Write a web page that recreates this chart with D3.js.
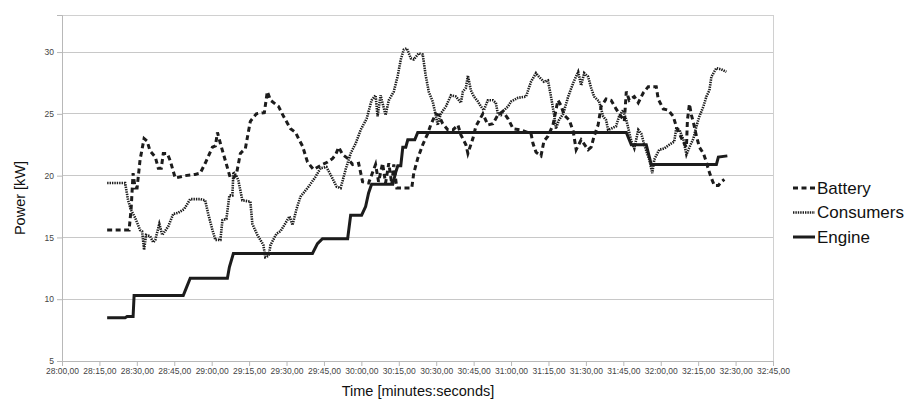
<!DOCTYPE html>
<html><head><meta charset="utf-8">
<script src="https://cdn.jsdelivr.net/npm/d3@7"></script>
<style>body{margin:0;background:#fff;} svg{display:block;font-family:"Liberation Sans",Arial,sans-serif;}</style>
</head><body>
<script>
// Time in seconds after 28:00
const engineT = [18.1,25.3,26.1,28.5,28.9,48.6,49.8,51.4,66.3,67.1,68.7,100.4,102.4,104.4,114.5,115.7,120.1,121.7,122.9,124.1,132.6,133.8,134.6,135.8,136.6,137.8,138.6,141.4,142.6,226.2,228.2,234.2,236.2,262.3,263.1,266.7];
const engineV = [8.5,8.5,8.6,8.6,10.3,10.3,10.9,11.7,11.7,12.6,13.7,13.7,14.5,14.9,14.9,16.8,16.8,17.5,18.6,19.3,19.3,20.3,20.8,20.8,22.3,22.3,22.9,22.9,23.5,23.5,22.5,22.5,20.9,20.9,21.5,21.6];

const batteryT = [18.1,26.9,27.7,28.5,29.3,30.1,31.3,32.9,34.1,35.3,37.4,38.6,39.8,40.6,42.2,43.4,45.4,49.4,53.4,55.4,57.4,60.3,61.5,62.3,63.5,65.5,67.5,68.7,69.9,71.5,73.5,75.5,77.9,81.1,82.3,83.6,86.8,88.8,91.6,93.6,94.8,96.4,98.4,100.8,104.4,106.5,108.5,109.7,110.9,112.5,114.5,116.5,118.9,120.5,122.9,125.7,126.9,128.5,129.7,131.0,132.2,133.0,134.2,140.2,141.0,142.6,144.6,146.6,147.8,149.8,151.0,152.6,154.7,156.7,158.7,159.9,161.9,162.7,164.7,165.9,168.7,170.7,172.7,174.7,176.7,178.8,180.8,184.0,188.0,188.8,190.0,192.0,193.2,194.8,196.8,198.8,200.0,201.3,203.3,204.9,206.1,208.1,210.9,212.1,213.3,214.9,216.1,218.1,220.1,222.1,224.1,225.4,226.2,227.4,229.4,231.0,233.0,235.0,238.2,239.0,241.0,243.0,245.0,246.2,247.5,249.1,250.3,250.7,251.5,252.3,253.1,254.3,255.5,257.1,258.3,259.1,260.3,261.5,263.1,264.3,265.5];
const batteryV = [15.6,15.6,17.3,20.2,19.0,19.0,21.3,23.0,22.8,22.0,21.5,20.6,20.6,21.8,21.8,21.2,19.8,20.0,20.1,20.2,21.0,22.3,22.4,23.5,22.6,21.2,19.8,19.8,20.1,21.8,22.2,24.4,25.0,25.1,26.8,26.1,25.6,24.8,23.8,23.5,23.0,22.4,21.1,20.5,20.9,21.1,21.4,21.7,22.3,21.7,21.4,20.9,21.0,19.5,19.4,20.9,19.5,21.0,19.4,21.0,19.3,20.9,19.0,19.0,20.2,21.4,22.5,23.4,24.1,25.0,24.9,24.2,23.7,23.7,24.1,23.3,22.5,21.8,23.0,24.0,25.0,24.1,24.2,24.9,25.2,24.6,23.8,23.7,23.4,22.6,21.9,21.6,22.8,23.2,24.1,26.1,25.7,24.9,24.5,23.6,22.1,22.9,22.1,22.3,23.2,24.1,25.6,26.2,26.1,25.4,24.8,24.4,26.8,26.1,26.4,25.9,26.7,27.2,27.2,26.2,25.4,25.3,24.8,24.0,23.4,22.7,22.3,24.5,25.8,24.9,24.3,23.2,22.3,21.8,21.1,20.5,19.8,19.2,19.2,19.5,19.7];

const consumersT = [18.1,25.3,26.5,27.7,29.3,31.3,32.1,32.9,33.7,35.3,36.6,37.4,39.0,40.2,42.6,44.6,46.6,49.0,51.4,55.4,57.4,58.6,60.3,61.5,63.5,64.3,65.9,67.1,68.3,68.7,69.9,70.7,72.3,75.5,76.3,78.3,80.7,81.5,82.8,83.6,86.0,87.6,88.8,91.2,92.4,94.0,95.6,98.8,101.6,103.6,106.0,108.1,110.1,111.7,113.7,115.7,117.7,119.7,122.1,124.1,125.7,126.5,127.7,129.7,131.0,133.0,134.6,135.8,137.0,138.2,139.8,141.0,143.0,144.6,145.8,147.0,148.6,149.8,150.6,151.8,153.9,155.9,157.9,159.9,160.7,161.9,162.7,163.9,165.1,166.7,167.9,169.1,170.7,172.7,173.9,174.7,175.9,177.2,178.8,180.0,182.8,186.0,188.0,190.0,191.2,193.2,194.8,196.0,197.2,198.0,199.2,200.9,202.9,204.9,206.9,208.1,209.3,210.9,212.1,213.3,215.3,216.9,218.1,218.9,220.1,222.1,223.3,224.9,226.2,228.2,229.4,231.0,232.2,233.4,235.4,236.6,237.4,239.4,241.4,243.4,245.4,246.2,247.5,249.1,250.3,251.5,253.1,254.3,255.5,257.1,258.3,259.5,260.3,262.3,264.3,266.3];
const consumersV = [19.4,19.4,18.0,17.2,16.6,15.6,15.5,14.0,15.2,15.1,14.6,14.8,16.1,15.2,15.9,16.9,17.0,17.3,18.1,18.1,18.0,16.9,15.6,14.8,14.8,16.4,16.5,18.4,18.4,20.3,20.0,19.6,18.0,17.9,16.1,15.2,14.4,13.4,13.5,14.4,15.3,15.5,15.9,16.7,16.0,17.3,18.3,19.1,19.9,20.6,20.7,19.9,19.1,19.0,20.5,21.8,22.6,23.7,24.6,26.1,26.5,24.8,26.5,24.9,26.1,26.8,28.1,29.4,30.2,30.3,29.5,29.4,29.9,29.8,28.1,26.8,26.0,24.9,24.1,25.0,25.6,26.5,26.4,25.9,26.8,27.1,28.1,26.9,26.4,26.0,25.6,25.3,26.1,26.1,25.9,25.0,24.9,25.3,25.6,26.0,26.3,26.4,27.6,28.3,28.0,27.6,27.7,26.4,25.0,23.8,24.5,25.0,26.4,27.5,28.4,27.3,28.3,28.0,27.1,26.4,26.0,24.8,24.5,23.7,23.8,24.0,24.8,25.3,24.5,22.8,22.2,23.7,23.4,22.5,21.3,20.2,21.3,22.1,22.2,22.5,22.75,23.8,23.7,22.9,21.7,22.3,23.0,24.0,24.8,25.6,26.4,26.9,28.0,28.7,28.6,28.4];

const yTicks = [5,10,15,20,25,30];
const xTicks = [0,15,30,45,60,75,90,105,120,135,150,165,180,195,210,225,240,255,270,285];
const seriesNames = ["Battery","Consumers","Engine"];

const W = 906, H = 402;
const m = {left: 62, right: 773, top: 15, bottom: 361};
const svg = d3.select("body").append("svg").attr("width", W).attr("height", H);

const x = d3.scaleLinear().domain([0, 285]).range([m.left, m.right]);
const y = d3.scaleLinear().domain([5, 33]).range([m.bottom, m.top]);

const fmt = t => { const mm = 28 + Math.floor(t / 60), ss = t % 60; return mm + ":" + String(ss).padStart(2, "0") + ",00"; };

// gridlines
svg.append("g").selectAll("line").data(yTicks.filter(v => v > 5)).join("line")
  .attr("x1", m.left).attr("x2", m.right).attr("y1", d => y(d)).attr("y2", d => y(d))
  .attr("stroke", "#c8c8c8").attr("stroke-width", 1).attr("shape-rendering", "crispEdges");
// top and right frame
svg.append("line").attr("x1", m.left).attr("x2", m.right).attr("y1", m.top).attr("y2", m.top)
  .attr("stroke", "#d0d0d0").attr("shape-rendering", "crispEdges");
svg.append("line").attr("x1", m.right).attr("x2", m.right).attr("y1", m.top).attr("y2", m.bottom)
  .attr("stroke", "#d0d0d0").attr("shape-rendering", "crispEdges");

const yAxis = svg.append("g").attr("transform", `translate(${m.left},0)`)
  .call(d3.axisLeft(y).tickValues(yTicks).tickSize(5).tickPadding(3));
const xAxis = svg.append("g").attr("transform", `translate(0,${m.bottom})`)
  .call(d3.axisBottom(x).tickValues(xTicks).tickFormat(fmt).tickSize(5).tickPadding(2));
[yAxis, xAxis].forEach(g => {
  g.select(".domain").attr("stroke", "#b8b8b8");
  g.selectAll(".tick line").attr("stroke", "#b8b8b8");
  g.selectAll("text").attr("fill", "#444").attr("font-size", "8.5px").attr("font-family", "'Liberation Sans',Arial,sans-serif");
});

const line = d3.line().x(d => x(d[0])).y(d => y(d[1]));
const zip = (a, b) => a.map((t, i) => [t, b[i]]);
const styles = {
  Battery: {w: 3, dash: "5,3.5"},
  Consumers: {w: 2.6, dash: "1.4,1"},
  Engine: {w: 3, dash: null}
};
const data = {Battery: zip(batteryT, batteryV), Consumers: zip(consumersT, consumersV), Engine: zip(engineT, engineV)};

["Consumers", "Battery", "Engine"].forEach(n => {
  svg.append("path").datum(data[n]).attr("d", line)
    .attr("fill", "none").attr("stroke", "#1c1c1c").attr("stroke-width", styles[n].w)
    .attr("stroke-dasharray", styles[n].dash).attr("stroke-linejoin", "miter");
});

// legend
const lg = svg.append("g");
seriesNames.forEach((n, i) => {
  const cy = 188 + i * 24.5;
  lg.append("line").attr("x1", 793).attr("x2", 815).attr("y1", cy).attr("y2", cy)
    .attr("stroke", "#1c1c1c").attr("stroke-width", styles[n].w).attr("stroke-dasharray", styles[n].dash);
  lg.append("text").attr("x", 817).attr("y", cy).attr("dy", "0.35em")
    .attr("font-size", "17px").attr("fill", "#111").text(n);
});

// axis titles
svg.append("text").attr("transform", `translate(25,${(m.top + m.bottom) / 2 + 10}) rotate(-90)`)
  .attr("text-anchor", "middle").attr("font-size", "14.5px").attr("fill", "#111").text("Power [kW]");
svg.append("text").attr("x", 418).attr("y", 396).attr("text-anchor", "middle")
  .attr("font-size", "14.5px").attr("fill", "#111").text("Time [minutes:seconds]");
</script>
</body></html>
